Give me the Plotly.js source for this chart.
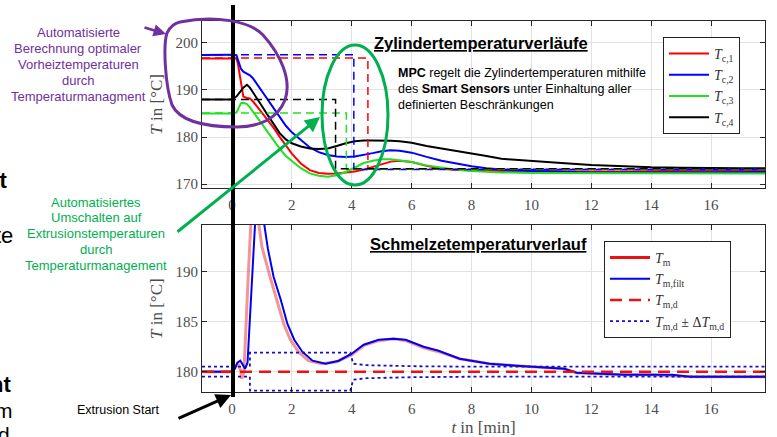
<!DOCTYPE html>
<html><head><meta charset="utf-8">
<script src="https://cdn.plot.ly/plotly-3.0.1.min.js"></script>
<style>html,body{margin:0;padding:0;background:#fff}#chart{width:777px;height:437px}</style>
</head><body><div id="chart"></div>
<script>
// ---------- Zylindertemperaturen (top) ----------
const tTop = [-1, -0.5, 0, 0.15, 0.2, 0.3, 0.38, 0.5, 0.6, 0.7, 0.8, 1.0, 1.2, 1.4, 1.6, 1.8, 2.0, 2.3, 2.6, 2.9, 3.2, 3.5, 3.8, 4.1, 4.4, 4.7, 5.0, 5.3, 5.6, 6.0, 6.5, 7.0, 7.5, 8.0, 8.5, 9, 10, 11, 12, 13, 14, 15, 16, 17, 17.8];
const Tc1 = [196.7, 196.7, 196.8, 196.7, 195.5, 192.0, 188.6, 188.3, 188.2, 187.6, 186.8, 185.3, 183.7, 181.9, 180.0, 178.2, 176.5, 174.4, 173.0, 172.4, 172.2, 172.3, 172.5, 172.7, 173.1, 173.7, 174.3, 174.8, 175.0, 174.7, 173.9, 173.3, 173.0, 172.9, 172.8, 172.8, 172.8, 172.7, 172.7, 172.7, 172.8, 172.8, 172.9, 172.9, 172.9];
const Tc2 = [197.4, 197.5, 197.5, 197.4, 196.5, 194.5, 193.9, 193.5, 193.1, 192.5, 191.6, 189.8, 188.0, 186.0, 184.2, 182.4, 181.0, 179.3, 177.8, 176.8, 176.2, 175.9, 175.8, 175.9, 176.2, 176.6, 177.0, 177.2, 177.1, 176.7, 175.8, 175.0, 174.4, 173.8, 173.4, 173.1, 172.8, 172.6, 172.5, 172.5, 172.5, 172.6, 172.6, 172.6, 172.6];
const Tc3 = [185.0, 185.0, 185.0, 185.2, 186.0, 187.2, 187.3, 187.0, 186.3, 185.4, 184.6, 182.9, 181.0, 179.2, 177.5, 176.0, 174.9, 173.4, 172.3, 171.8, 171.6, 171.9, 172.6, 173.6, 174.5, 175.0, 175.3, 175.3, 175.1, 174.7, 174.0, 173.5, 173.1, 172.8, 172.6, 172.5, 172.4, 172.4, 172.3, 172.3, 172.3, 172.3, 172.3, 172.3, 172.3];
const Tc4 = [188.0, 188.0, 188.0, 188.6, 189.0, 189.8, 190.5, 191.1, 190.5, 189.5, 188.6, 186.6, 184.6, 182.6, 180.8, 179.5, 178.7, 178.0, 177.6, 177.5, 177.6, 178.1, 178.7, 179.1, 179.3, 179.3, 179.3, 179.2, 179.1, 178.8, 178.1, 177.6, 177.1, 176.6, 176.0, 175.4, 174.9, 174.5, 174.1, 173.8, 173.6, 173.5, 173.4, 173.4, 173.4];
// Sollwerte (Vorheiz -> Extrusion)
const tSet1 = [-1, 4.54, 4.54, 17.8], Tset1 = [196.8, 196.8, 173.2, 173.2];
const tSet2 = [-1, 4.07, 4.07, 17.8], Tset2 = [197.5, 197.5, 173.1, 173.1];
const tSet3 = [-1, 3.82, 3.82, 17.8], Tset3 = [185.1, 185.1, 173.2, 173.2];
const tSet4 = [-1, 3.46, 3.46, 17.8], Tset4 = [188.0, 188.0, 173.3, 173.3];
const topNames = ['<i>T</i><sub>c,1</sub>', '<i>T</i><sub>c,2</sub>', '<i>T</i><sub>c,3</sub>', '<i>T</i><sub>c,4</sub>'];

// ---------- Schmelzetemperatur (bottom) ----------
const tM = [-1, -0.5, 0, 0.1, 0.2, 0.28, 0.33, 0.4, 0.47, 0.55, 0.63, 0.7, 0.8, 0.9, 1.0, 1.27, 1.5, 1.73, 1.95, 2.22, 2.55, 3.0, 3.5, 4.0, 4.4, 4.9, 5.4, 5.8, 6.4, 6.9, 7.6, 8.6, 9.5, 10.2, 11.1, 11.5, 12.5, 13.1, 14.0, 14.7, 15.3, 16, 17, 17.8];
const Tm = [180.0, 180.0, 180.0, 180.4, 180.8, 180.2, 179.3, 180.0, 184.0, 190.0, 194.7, 197.0, 198.0, 194.7, 192.5, 189.5, 187.2, 184.8, 183.2, 182.0, 181.1, 180.8, 181.0, 181.7, 182.6, 183.1, 183.3, 183.1, 182.4, 182.0, 181.3, 180.8, 180.6, 180.5, 180.3, 179.9, 179.8, 179.7, 179.7, 179.6, 179.5, 179.5, 179.5, 179.5];
const tF = [-1, -0.5, 0, 0.1, 0.18, 0.28, 0.36, 0.44, 0.52, 0.6, 0.68, 0.77, 0.85, 0.93, 1.0, 1.08, 1.2, 1.39, 1.63, 1.85, 2.08, 2.35, 2.69, 3.13, 3.57, 4.0, 4.4, 4.9, 5.4, 5.8, 6.4, 6.9, 7.6, 8.6, 9.5, 10.2, 11.1, 11.5, 12.5, 13.1, 14.0, 14.7, 15.3, 16, 17, 17.8];
const TmFilt = [180.0, 180.0, 180.0, 180.3, 180.9, 181.1, 180.7, 180.3, 180.9, 185.0, 190.0, 194.7, 197.3, 198.2, 197.8, 194.7, 192.3, 189.5, 187.2, 184.8, 183.2, 182.0, 181.1, 180.8, 181.1, 181.8, 182.7, 183.2, 183.3, 183.2, 182.5, 182.1, 181.3, 180.8, 180.6, 180.5, 180.3, 179.9, 179.8, 179.7, 179.7, 179.7, 179.5, 179.5, 179.5, 179.5];
const tD = [-1, 17.8], TmD = [180, 180];
const tBand = [-1, 0.6, 0.6, 3.95, 4.05, 4.5, 6, 8, 17.8];
const TmUpper = [180.5, 180.5, 181.9, 181.9, 180.8, 180.65, 180.55, 180.5, 180.5];
const TmLower = [179.5, 179.5, 178.1, 178.1, 179.2, 179.35, 179.45, 179.5, 179.5];
const botNames = ['<i>T</i><sub>m</sub>', '<i>T</i><sub>m,filt</sub>', '<i>T</i><sub>m,d</sub>', '<i>T</i><sub>m,d</sub> ± Δ<i>T</i><sub>m,d</sub>'];

const xTicks = [0, 2, 4, 6, 8, 10, 12, 14, 16];

// ---------- helpers (pixel -> paper) ----------
const W = 777, H = 437;
const PX = x => x / W, PY = y => 1 - y / H;
const P = (x, y) => PX(x).toFixed(4) + ',' + PY(y).toFixed(4);

const serif = 'Liberation Serif, Times New Roman, serif';
const sans = 'Liberation Sans, Arial, sans-serif';
const tickCol = '#4d4d4d';

const colTop = ['#ff0000', '#0000ff', '#22e022', '#000000'];
const topSeries = [Tc1, Tc2, Tc3, Tc4];
const setT = [tSet1, tSet2, tSet3, tSet4], setV = [Tset1, Tset2, Tset3, Tset4];

const traces = [];
topSeries.forEach((s, i) => traces.push({
  x: tTop, y: s, type: 'scatter', mode: 'lines', name: topNames[i],
  line: {color: colTop[i], width: 2}, xaxis: 'x', yaxis: 'y', legend: 'legend'
}));
setT.forEach((t, i) => traces.push({
  x: t, y: setV[i], type: 'scatter', mode: 'lines', showlegend: false,
  line: {color: colTop[i], width: 1.5, dash: '8px,5px'}, xaxis: 'x', yaxis: 'y'
}));

// bottom
traces.push({x: [null], y: [null], type: 'scatter', mode: 'lines', name: botNames[0],
  line: {color: '#ee1111', width: 3}, xaxis: 'x2', yaxis: 'y2', legend: 'legend2'});
traces.push({x: tM, y: Tm, type: 'scatter', mode: 'lines', showlegend: false,
  line: {color: 'rgba(240,90,90,0.65)', width: 3}, xaxis: 'x2', yaxis: 'y2'});
traces.push({x: tF, y: TmFilt, type: 'scatter', mode: 'lines', name: botNames[1],
  line: {color: '#0000ee', width: 2}, xaxis: 'x2', yaxis: 'y2', legend: 'legend2'});
traces.push({x: tD, y: TmD, type: 'scatter', mode: 'lines', name: botNames[2],
  line: {color: '#ee1111', width: 2.5, dash: '12px,7px'}, xaxis: 'x2', yaxis: 'y2', legend: 'legend2'});
traces.push({x: tBand.concat([null], tBand), y: TmUpper.concat([null], TmLower), type: 'scatter', mode: 'lines',
  name: botNames[3], connectgaps: false,
  line: {color: '#1010cc', width: 1.8, dash: 'dot'}, xaxis: 'x2', yaxis: 'y2', legend: 'legend2'});

const xDom = [PX(202), PX(765)];
const axCommon = {
  showline: true, linecolor: '#262626', linewidth: 1, mirror: 'ticks',
  ticks: 'inside', ticklen: 5, tickcolor: '#262626',
  showgrid: true, gridcolor: '#e2e2e2', gridwidth: 1, zeroline: false,
  tickfont: {family: serif, size: 15, color: tickCol}, automargin: false
};

const layout = {
  width: W, height: H, margin: {l: 0, r: 0, t: 0, b: 0},
  paper_bgcolor: '#fff', plot_bgcolor: '#fff', showlegend: true,
  xaxis: Object.assign({}, axCommon, {domain: xDom, anchor: 'y', range: [-1, 17.8], tickvals: xTicks, ticklabelstandoff: 3}),
  yaxis: Object.assign({}, axCommon, {domain: [PY(188), PY(20.7)], anchor: 'x', range: [169.2, 204.7], tickvals: [170, 180, 190, 200],
    title: {text: '<i>T</i> in [°C]', font: {family: serif, size: 17, color: tickCol}, standoff: 8}}),
  xaxis2: Object.assign({}, axCommon, {domain: xDom, anchor: 'y2', range: [-1, 17.8], tickvals: xTicks, ticklabelstandoff: 3,
    title: {text: '<i>t</i> in [min]', font: {family: serif, size: 17, color: tickCol}, standoff: 4}}),
  yaxis2: Object.assign({}, axCommon, {domain: [PY(392.3), PY(225)], anchor: 'x2', range: [177.94, 194.67], tickvals: [180, 185, 190],
    title: {text: '<i>T</i> in [°C]', font: {family: serif, size: 17, color: tickCol}, standoff: 8}}),
  legend: {x: PX(663), y: PY(37), xanchor: 'left', yanchor: 'top', bgcolor: '#fff', bordercolor: '#222', borderwidth: 1,
    font: {family: serif, size: 14, color: '#333'}, tracegroupgap: 0, itemwidth: 40},
  legend2: {x: PX(604), y: PY(241), xanchor: 'left', yanchor: 'top', bgcolor: '#fff', bordercolor: '#222', borderwidth: 1,
    font: {family: serif, size: 14, color: '#333'}, tracegroupgap: 0, itemwidth: 40},
  shapes: [
    // Extrusion start marker
    {type: 'line', xref: 'paper', yref: 'paper', x0: PX(233), x1: PX(233), y0: PY(5), y1: PY(397), line: {color: '#000', width: 4}},
    // purple hand-drawn ellipse
    {type: 'path', xref: 'paper', yref: 'paper', line: {color: '#7030a0', width: 3},
      path: `M ${P(180,22)} C ${P(215,15)} ${P(250,21)} ${P(263,35)} C ${P(281,55)} ${P(292,80)} ${P(285,100)} C ${P(278,118)} ${P(260,127)} ${P(237,127)} C ${P(205,127)} ${P(180,122)} ${P(172,105)} C ${P(165,85)} ${P(163,45)} ${P(167,33)} C ${P(170,27)} ${P(175,23)} ${P(180,22)} Z`},
    // green ellipse
    {type: 'circle', xref: 'paper', yref: 'paper', x0: PX(322), x1: PX(388), y0: PY(185), y1: PY(45), line: {color: '#00b050', width: 3}}
  ],
  annotations: []
};

const A = layout.annotations;
A.push({xref: 'paper', yref: 'paper', x: PX(481), y: PY(43.5), xanchor: 'center', yanchor: 'middle', showarrow: false,
  text: '<b><u>Zylindertemperaturverläufe</u></b>', font: {family: sans, size: 16.5, color: '#000'}});
A.push({xref: 'paper', yref: 'paper', x: PX(478), y: PY(243.5), xanchor: 'center', yanchor: 'middle', showarrow: false,
  text: '<b><u>Schmelzetemperaturverlauf</u></b>', font: {family: sans, size: 16.5, color: '#000'}});
const mpcLines = ['<b>MPC</b> regelt die Zylindertemperaturen mithilfe', 'des <b>Smart Sensors</b> unter Einhaltung aller', 'definierten Beschränkungen'];
mpcLines.forEach((t, i) => A.push({xref: 'paper', yref: 'paper', x: PX(396), y: PY(73.3 + i * 16), xanchor: 'left', yanchor: 'middle',
  showarrow: false, text: t, font: {family: sans, size: 12.5, color: '#000'}}));
const purpleLines = ['Automatisierte', 'Berechnung optimaler', 'Vorheiztemperaturen', 'durch', 'Temperaturmanagment'];
purpleLines.forEach((t, i) => A.push({xref: 'paper', yref: 'paper', x: PX(78), y: PY(33 + i * 15.8), xanchor: 'center', yanchor: 'middle',
  showarrow: false, text: t, font: {family: sans, size: 13, color: '#7030a0'}}));
const greenLines = ['Automatisiertes', 'Umschalten auf', 'Extrusionstemperaturen', 'durch', 'Temperaturmanagement'];
greenLines.forEach((t, i) => A.push({xref: 'paper', yref: 'paper', x: PX(96), y: PY(202 + i * 15.9), xanchor: 'center', yanchor: 'middle',
  showarrow: false, text: t, font: {family: sans, size: 13, color: '#00b050'}}));
A.push({xref: 'paper', yref: 'paper', x: PX(118), y: PY(410), xanchor: 'center', yanchor: 'middle', showarrow: false,
  text: 'Extrusion Start', font: {family: sans, size: 12.5, color: '#000'}});
// clipped slide text at the left edge
[['<b>rt</b>', 180, 10, 22], ['te', 235, 15, 22], ['<b>nt</b>', 384, 13, 22], ['m', 410, 15, 21], ['d', 434, 12, 21]].forEach(r =>
  A.push({xref: 'paper', yref: 'paper', x: PX(r[2]), y: PY(r[1]), xanchor: 'right', yanchor: 'middle', showarrow: false,
    text: r[0], font: {family: sans, size: r[3], color: '#000'}}));
// arrows
const arrow = (tx, ty, hx, hy, col, w) => A.push({xref: 'paper', yref: 'paper', x: PX(hx), y: PY(hy), ax: tx - hx, ay: ty - hy,
  axref: 'pixel', ayref: 'pixel', text: '', showarrow: true, arrowhead: 2, arrowsize: 1, arrowwidth: w, arrowcolor: col});
arrow(143, 27, 166, 34, '#7030a0', 2.5);
arrow(176, 233, 320, 117, '#00b050', 3);
arrow(177, 419, 231, 395, '#000', 3);

Plotly.newPlot('chart', traces, layout, {displayModeBar: false, staticPlot: true});
</script></body></html>
